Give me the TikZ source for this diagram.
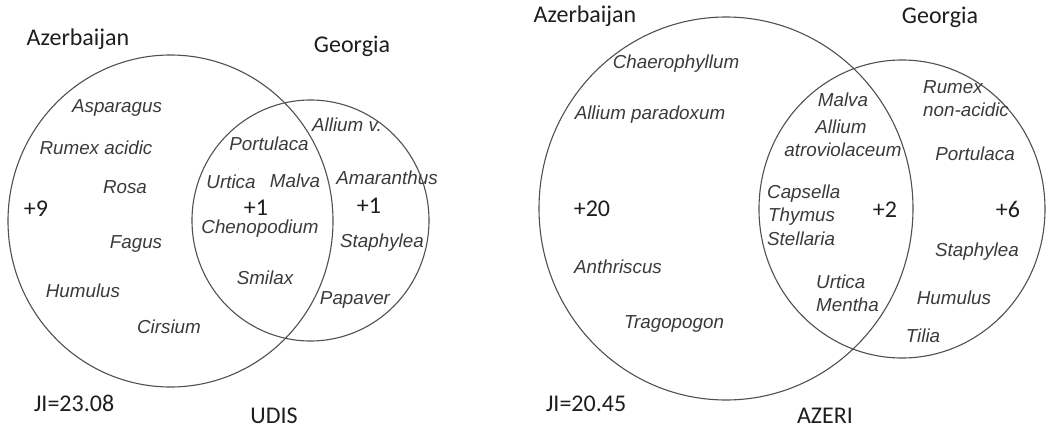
\documentclass[tikz,border=0pt]{standalone}
\usepackage{fontspec}
\usetikzlibrary{shapes.geometric}
\newfontfamily\labfont{Carlito}
\newfontfamily\spfont{Liberation Sans}
\definecolor{linegray}{HTML}{505050}
\definecolor{sptext}{HTML}{3A3A3A}
\definecolor{labtext}{HTML}{1E1E1E}
\tikzset{
  setring/.style={draw=linegray, line width=1.1pt, ellipse, inner sep=0pt, fill=none},
  species/.style={inner sep=0pt, text=sptext, font=\spfont\itshape\fontsize{18.8}{22}\selectfont, anchor=base},
  speciesw/.style={species, anchor=base west},
  lab/.style={inner sep=0pt, text=labtext, font=\labfont\fontsize{24}{28}\selectfont, anchor=base}
}
\begin{document}
\begin{tikzpicture}[x=1pt,y=-1pt]
\useasboundingbox (0,0) rectangle (1061,428);
% ---------- left panel (UDIS) ----------
\node[setring, minimum width=325pt, minimum height=332pt] (azL) at (170.5,221) {};
\node[setring, minimum width=237pt, minimum height=241pt] (geL) at (310.5,220.5) {};
\node[lab] (azLlab) at (78,45.7) {Azerbaijan};
\node[lab] (geLlab) at (352,53) {Georgia};
\node[species] (aspar) at (117,112.7) {Asparagus};
\node[species] (rumexL) at (96,154.7) {Rumex acidic};
\node[species] (rosa) at (125,193.7) {Rosa};
\node[lab] (nineL) at (36,216.6) {+9};
\node[species] (fagus) at (136,248.7) {Fagus};
\node[species] (humL) at (83,297.7) {Humulus};
\node[species] (cirs) at (169,333.7) {Cirsium};
\node[species] (portL) at (269,150.7) {Portulaca};
\node[species] (alliumv) at (347,131.7) {Allium v.};
\node[species] (urtL) at (231,188.7) {Urtica};
\node[species] (malvaL) at (295,187.7) {Malva};
\node[species] (amar) at (387,184.7) {Amaranthus};
\node[lab] (oneC) at (256,215) {+1};
\node[lab] (oneR) at (369,213.3) {+1};
\node[species] (cheno) at (260,233.7) {Chenopodium};
\node[species] (staphL) at (382,247.7) {Staphylea};
\node[species] (smilax) at (265,284.7) {Smilax};
\node[species] (papaver) at (355,304.7) {Papaver};
\node[lab] (jiL) at (74,411) {JI=23.08};
\node[lab] (udis) at (274,423) {UDIS};
% ---------- right panel (AZERI) ----------
\node[setring, minimum width=374pt, minimum height=383pt] (azR) at (726,208.5) {};
\node[setring, minimum width=286pt, minimum height=298pt] (geR) at (902,209) {};
\node[lab] (azRlab) at (585,23) {Azerbaijan};
\node[lab] (geRlab) at (940,24) {Georgia};
\node[species] (chaero) at (676,68.7) {Chaerophyllum};
\node[species] (allpar) at (650,119.7) {Allium paradoxum};
\node[lab] (twenty) at (592,216.7) {+20};
\node[species] (anthr) at (618,273.7) {Anthriscus};
\node[species] (trago) at (674,328.7) {Tragopogon};
\node[species] (malvaR) at (843,106.7) {Malva};
\node[species] (allium) at (841,133.7) {Allium};
\node[species] (atrov) at (843,156.7) {atroviolaceum};
\node[speciesw] (caps) at (767,198.7) {Capsella};
\node[speciesw] (thym) at (768,221.7) {Thymus};
\node[speciesw] (stell) at (767,245.7) {Stellaria};
\node[lab] (two) at (885,217.3) {+2};
\node[speciesw] (urtR) at (816,288.7) {Urtica};
\node[speciesw] (menth) at (816,311.7) {Mentha};
\node[speciesw] (rumexR) at (923,93.7) {Rumex};
\node[speciesw] (nonac) at (923,116.7) {non-acidic};
\node[species] (portR) at (975,160.7) {Portulaca};
\node[lab] (six) at (1008,217.3) {+6};
\node[species] (staphR) at (977,256.7) {Staphylea};
\node[species] (humR) at (954,304.7) {Humulus};
\node[species] (tilia) at (923,342.7) {Tilia};
\node[lab] (jiR) at (586,411) {JI=20.45};
\node[lab] (azeri) at (825,423) {AZERI};
\end{tikzpicture}
\end{document}
